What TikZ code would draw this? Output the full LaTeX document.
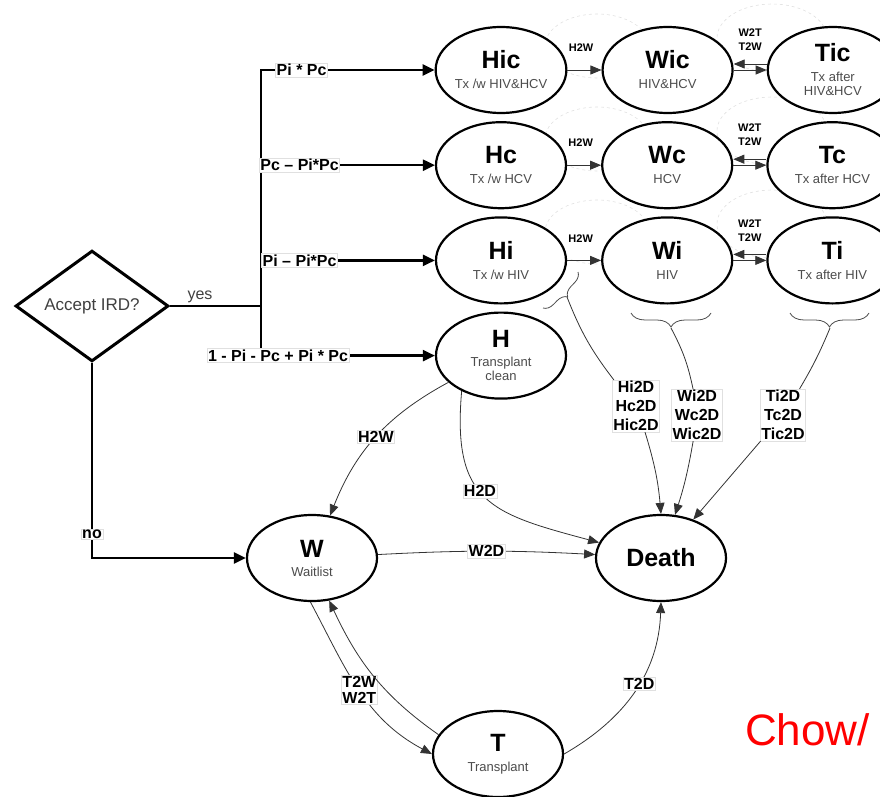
\documentclass[tikz,border=0pt]{standalone}
\usepackage{fontspec}
\setmainfont{Liberation Sans}
\usetikzlibrary{shapes.geometric,arrows.meta,positioning,decorations.pathreplacing}

\newcommand{\statename}[1]{{\fontsize{25}{28}\selectfont\bfseries\color{black}#1}}

\begin{document}
\begin{tikzpicture}[
        x=1pt, y=-1pt,
        state/.style={
            ellipse, draw, line width=2.2pt, fill=white,
            minimum width=130pt, minimum height=86pt,
            inner sep=0pt, align=center, text=black!70,
            font=\fontsize{13}{14}\selectfont
        },
        decision/.style={
            diamond, draw, line width=3pt, fill=white,
            minimum width=153pt, minimum height=94pt,
            inner sep=0pt, text=black!75,
            font=\fontsize{17}{20}\selectfont
        },
        branch/.style={line width=2.4pt, -{Triangle[length=12pt,width=11pt]}},
        trans/.style={line width=0.8pt, draw=black!80, -{Triangle[length=11pt,width=9pt]}},
        prob/.style={
            fill=white, draw=black!12, line width=0.5pt, inner sep=1pt,
            text=black, align=center,
            font=\fontsize{16}{19}\selectfont\bfseries
        },
        rate/.style={inner sep=0pt, text=black, align=center, font=\fontsize{11}{14}\selectfont\bfseries},
        ghost/.style={draw=black!12, dashed, line width=0.6pt},
        bracket/.style={decorate, decoration={brace, amplitude=14pt}, line width=0.8pt, draw=black!70}
      ]

  \useasboundingbox (0,0) rectangle (880,797);

  \foreach \y in {70,163,256} {
    \draw[ghost] (597,\y-24) ellipse [x radius=52pt, y radius=32pt];
    \draw[ghost] (772,\y-32) ellipse [x radius=55pt, y radius=34pt];
  }

  \node   (hic) [state] at (501,70) {\statename{Hic}\\[6pt]Tx /w HIV\&HCV};
  \node   (wic) [state, right=34pt of hic] {\statename{Wic}\\[6pt]HIV\&HCV};
  \node   (tic) [state, right=33pt of wic] {\statename{Tic}\\[6pt]Tx after\\HIV\&HCV};

  \node   (hc) [state, below=7pt of hic] {\statename{Hc}\\[6pt]Tx /w HCV};
  \node   (wc) [state, right=34pt of hc] {\statename{Wc}\\[6pt]HCV};
  \node   (tc) [state, right=33pt of wc] {\statename{Tc}\\[6pt]Tx after HCV};

  \node   (hi) [state, below=7pt of hc] {\statename{Hi}\\[6pt]Tx /w HIV};
  \node   (wi) [state, right=34pt of hi] {\statename{Wi}\\[6pt]HIV};
  \node   (ti) [state, right=33pt of wi] {\statename{Ti}\\[6pt]Tx after HIV};

  \node   (h) [state, below=7pt of hi] {\statename{H}\\[5pt]Transplant\\clean};

  \node   (w) [state] at (312,558) {\statename{W}\\[5pt]Waitlist};
  \node   (death) [state] at (661,558) {\statename{Death}};
  \node   (t) [state] at (498,754) {\statename{T}\\[6pt]Transplant};

  \node   (ird) [decision] at (92,306) {Accept IRD?};
  \coordinate (split) at (261,306);

  \draw[line width=2.4pt] (ird) -- node[pos=0.33, above, inner sep=2pt, text=black!75, font=\fontsize{16}{19}\selectfont] {yes} (split);
  \draw[branch] (split) |- node[prob, pos=0.617] {Pi * Pc} (hic);
  \draw[branch] (split) |- node[prob, pos=0.611] {Pc – Pi*Pc} (hc);
  \draw[branch] (split) |- node[prob, pos=0.611] {Pi – Pi*Pc} (hi);
  \draw[branch] (split) |- node[prob, pos=0.549] {1 - Pi - Pc + Pi * Pc} (h);
  \draw[branch] (ird) |- node[prob, pos=0.439] {no} (w);

  \foreach \hh/\ww/\tt in {hic/wic/tic, hc/wc/tc, hi/wi/ti} {
    \draw[trans] (\hh) -- node[rate, pos=0.4, above=18pt] {H2W} (\ww);
    \draw[trans] ([yshift=6pt]\tt.west) -- ([yshift=6pt]\ww.east);
    \draw[trans] (\ww.east) -- node[rate, above=19pt] {W2T\\T2W} (\tt.west);
  }

  \draw[trans] (h) to[bend right=20] node[prob] {H2W} (w);
  \draw[trans] (h.222) to[out=265, in=165, looseness=1.4] node[prob, pos=0.45] {H2D} (death.166);
  \draw[trans] (w) to[bend left=3] node[prob] {W2D} (death);
  \draw[trans] (w.268) to[out=-62, in=152] node[prob, pos=0.5, font=\fontsize{16}{15.5}\selectfont\bfseries] {T2W\\W2T} (t.west);
  \draw[trans] (t.162) to[out=145, in=-65] (w.292);
  \draw[trans] (t.east) to[out=30, in=-92] node[prob, pos=0.55] {T2D} (death.south);

  \draw[bracket, decoration={brace, amplitude=10pt}] (578,272) -- (543,308);
  \draw[bracket] (711,313) -- (631,313);
  \draw[bracket] (869,313) -- (790,313);
  \coordinate (hitip) at (567,297);
  \coordinate (witip) at (671,328);
  \coordinate (titip) at (830,328);

  \node   (hid) [prob] at (636,406) {Hi2D\\Hc2D\\Hic2D};
  \node   (wid) [prob] at (697,415) {Wi2D\\Wc2D\\Wic2D};
  \node   (tid) [prob] at (783,415) {Ti2D\\Tc2D\\Tic2D};

  \draw[trans, -] (hitip) to[bend right=8] (hid);
  \draw[trans, -] (witip) to[bend left=8] (wid);
  \draw[trans, -] (titip) to[bend left=4] (tid);
  \draw[trans] (hid) to[bend left=6] (death.90);
  \draw[trans] (wid) to[bend left=4] (death.72);
  \draw[trans] (tid) -- (death.50);

  \node   (chow) [anchor=base west, inner sep=0pt, text=red, font=\fontsize{44}{50}\selectfont] at (745,745) {Chow/};

\end{tikzpicture}
\end{document}
